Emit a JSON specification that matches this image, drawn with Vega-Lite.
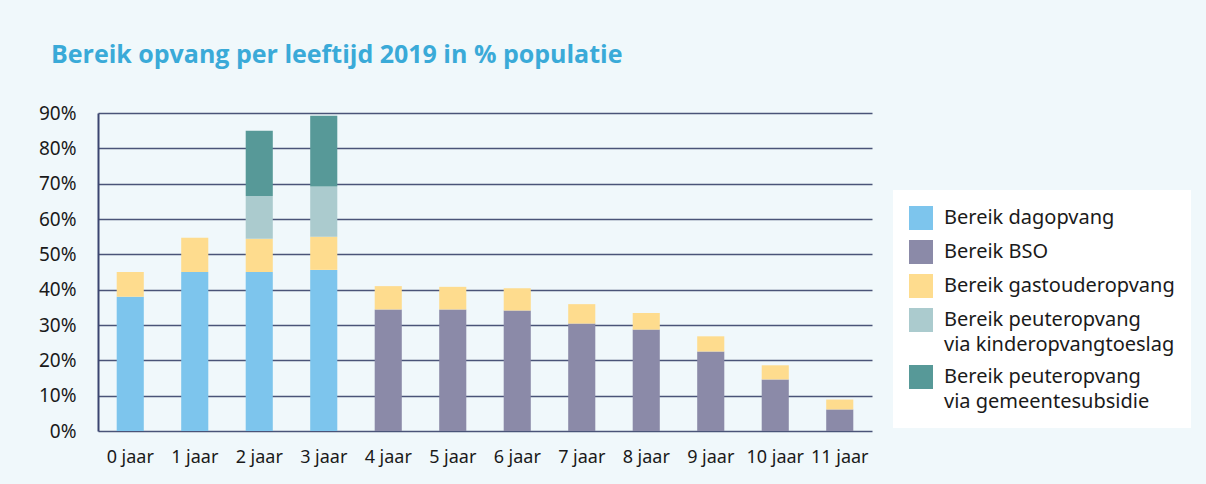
{
  "$schema": "https://vega.github.io/schema/vega-lite/v6.json",
  "width": 774,
  "height": 318,
  "autosize": "none",
  "padding": {"left": 98, "top": 113, "right": 334, "bottom": 53},
  "background": "#f0f8fb",
  "title": {
    "text": "Bereik opvang per leeftijd 2019 in % populatie",
    "anchor": "start",
    "frame": "group",
    "dx": -47,
    "offset": 36,
    "font": "Open Sans",
    "fontWeight": "bold",
    "fontSize": 25,
    "color": "#3aaad8"
  },
  "data": {
    "values": [
      {"leeftijd": "0 jaar", "type": "Bereik dagopvang", "waarde": 38.0},
      {"leeftijd": "0 jaar", "type": "Bereik gastouderopvang", "waarde": 7.0},
      {"leeftijd": "1 jaar", "type": "Bereik dagopvang", "waarde": 45.0},
      {"leeftijd": "1 jaar", "type": "Bereik gastouderopvang", "waarde": 9.7},
      {"leeftijd": "2 jaar", "type": "Bereik dagopvang", "waarde": 45.0},
      {"leeftijd": "2 jaar", "type": "Bereik gastouderopvang", "waarde": 9.4},
      {"leeftijd": "2 jaar", "type": "Bereik peuteropvang|via kinderopvangtoeslag", "waarde": 12.1},
      {"leeftijd": "2 jaar", "type": "Bereik peuteropvang|via gemeentesubsidie", "waarde": 18.5},
      {"leeftijd": "3 jaar", "type": "Bereik dagopvang", "waarde": 45.6},
      {"leeftijd": "3 jaar", "type": "Bereik gastouderopvang", "waarde": 9.4},
      {"leeftijd": "3 jaar", "type": "Bereik peuteropvang|via kinderopvangtoeslag", "waarde": 14.2},
      {"leeftijd": "3 jaar", "type": "Bereik peuteropvang|via gemeentesubsidie", "waarde": 20.0},
      {"leeftijd": "4 jaar", "type": "Bereik BSO", "waarde": 34.4},
      {"leeftijd": "4 jaar", "type": "Bereik gastouderopvang", "waarde": 6.6},
      {"leeftijd": "5 jaar", "type": "Bereik BSO", "waarde": 34.4},
      {"leeftijd": "5 jaar", "type": "Bereik gastouderopvang", "waarde": 6.4},
      {"leeftijd": "6 jaar", "type": "Bereik BSO", "waarde": 34.1},
      {"leeftijd": "6 jaar", "type": "Bereik gastouderopvang", "waarde": 6.3},
      {"leeftijd": "7 jaar", "type": "Bereik BSO", "waarde": 30.4},
      {"leeftijd": "7 jaar", "type": "Bereik gastouderopvang", "waarde": 5.5},
      {"leeftijd": "8 jaar", "type": "Bereik BSO", "waarde": 28.7},
      {"leeftijd": "8 jaar", "type": "Bereik gastouderopvang", "waarde": 4.7},
      {"leeftijd": "9 jaar", "type": "Bereik BSO", "waarde": 22.5},
      {"leeftijd": "9 jaar", "type": "Bereik gastouderopvang", "waarde": 4.3},
      {"leeftijd": "10 jaar", "type": "Bereik BSO", "waarde": 14.6},
      {"leeftijd": "10 jaar", "type": "Bereik gastouderopvang", "waarde": 4.0},
      {"leeftijd": "11 jaar", "type": "Bereik BSO", "waarde": 6.1},
      {"leeftijd": "11 jaar", "type": "Bereik gastouderopvang", "waarde": 2.8}
    ]
  },
  "mark": {"type": "bar"},
  "encoding": {
    "x": {
      "field": "leeftijd",
      "type": "nominal",
      "sort": null,
      "scale": {"paddingInner": 0.58, "paddingOuter": 0.29},
      "axis": {
        "title": null,
        "labelAngle": 0,
        "labelFont": "Noto Sans",
        "labelFontSize": 18,
        "labelColor": "#1a1a1a",
        "labelPadding": 17,
        "ticks": false,
        "domain": false,
        "grid": false
      }
    },
    "y": {
      "field": "waarde",
      "type": "quantitative",
      "stack": "zero",
      "scale": {"domain": [0, 90], "nice": false},
      "axis": {
        "title": null,
        "values": [0, 10, 20, 30, 40, 50, 60, 70, 80, 90],
        "labelExpr": "datum.value + '%'",
        "labelFont": "Noto Sans",
        "labelFontSize": 19,
        "labelColor": "#1a1a1a",
        "labelPadding": 22,
        "ticks": false,
        "domain": true,
        "domainColor": "#3b4570",
        "domainWidth": 2,
        "grid": true,
        "gridColor": "#4a5478",
        "gridWidth": 1.5
      }
    },
    "color": {
      "field": "type",
      "type": "nominal",
      "scale": {
        "domain": ["Bereik dagopvang", "Bereik BSO", "Bereik gastouderopvang", "Bereik peuteropvang|via kinderopvangtoeslag", "Bereik peuteropvang|via gemeentesubsidie"],
        "range": ["#7dc5ed", "#8b8aa8", "#fedc8e", "#abcbce", "#579998"]
      },
      "legend": {
        "title": null,
        "orient": "none",
        "legendX": 795,
        "legendY": 77,
        "fillColor": "#ffffff",
        "padding": 16,
        "symbolType": "square",
        "symbolSize": 576,
        "symbolStrokeWidth": 0,
        "labelFont": "Noto Sans",
        "labelFontSize": 20,
        "labelColor": "#1a1a1a",
        "labelLimit": 400,
        "labelOffset": 11,
        "rowPadding": 10,
        "labelExpr": "split(datum.label, '|')",
        "encode": {
          "labels": {
            "update": {
              "lineHeight": {"value": 25}
            }
          }
        }
      }
    },
    "order": {"field": "ord", "type": "quantitative"}
  },
  "transform": [
    {"calculate": "indexof(['Bereik dagopvang','Bereik BSO','Bereik gastouderopvang','Bereik peuteropvang|via kinderopvangtoeslag','Bereik peuteropvang|via gemeentesubsidie'], datum.type)", "as": "ord"}
  ],
  "config": {"view": {"stroke": null}}
}
